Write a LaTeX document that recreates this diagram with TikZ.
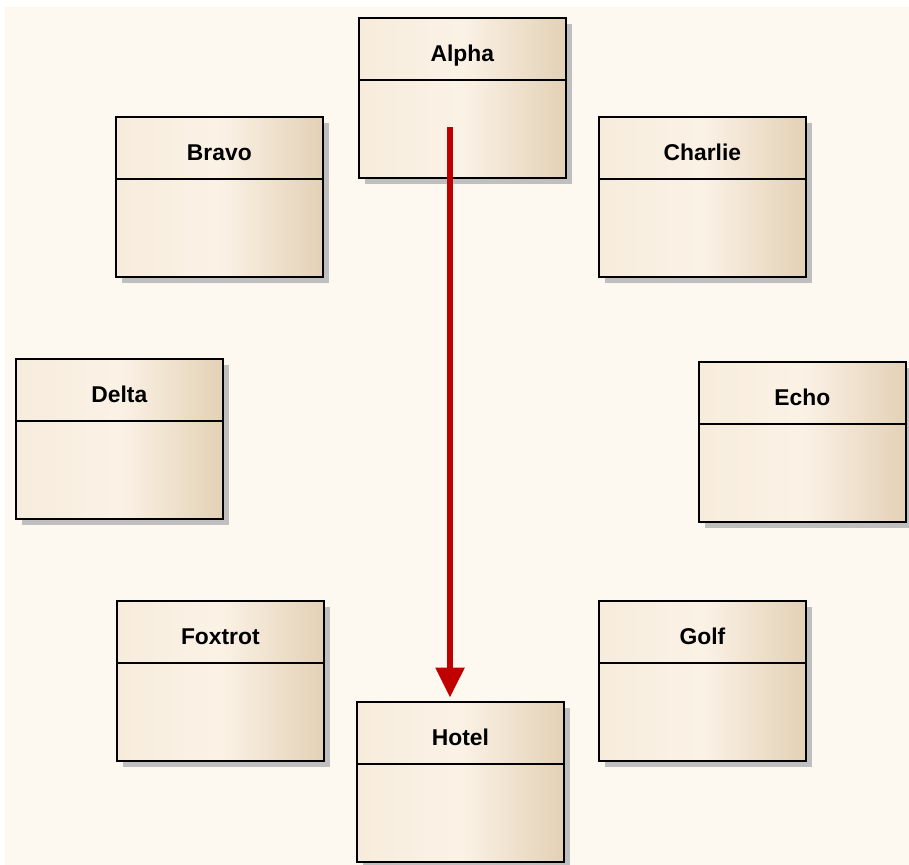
\documentclass[tikz,border=0pt]{standalone}
\usepackage{fontspec}
\setmainfont{Liberation Sans}
\usepackage{xcolor}
\usepackage{tikz}
\usetikzlibrary{arrows.meta, shadows, calc}

\definecolor{paper}{HTML}{FDF9F1}
\definecolor{boxL}{HTML}{F7ECDC}
\definecolor{boxM}{HTML}{FBF2E6}
\definecolor{boxR}{HTML}{E3D1B6}
\definecolor{linkred}{HTML}{C00000}

\begin{document}
\begin{tikzpicture}[
            x=0.02cm, y=-0.02cm,
            umlclass/.style={draw, line width=1pt, anchor=north west, inner sep=0pt,
                minimum width=4.14cm, minimum height=3.2cm,
                left color=boxL, right color=boxR, middle color=boxM,
                drop shadow={shadow xshift=0.13cm, shadow yshift=-0.13cm, fill=black!25, opacity=1}},
            title/.style={anchor=base, font=\fontsize{13}{15}\selectfont\bfseries},
            divider/.style={line width=1pt},
            link/.style={-{Triangle[length=17pt, width=16pt]}, line width=3pt, linkred, shorten >=2pt}
        ]
            \useasboundingbox (0,0) rectangle (909,865);
            \fill[paper] (5,7) rectangle (909,865);

            \node[umlclass] (alpha) at (358,17) {};
            \node[umlclass] (bravo) at (115,116) {};
            \node[umlclass] (charlie) at (598,116) {};
            \node[umlclass] (delta) at (15,358) {};
            \node[umlclass] (echo) at (698,361) {};
            \node[umlclass] (foxtrot) at (116,600) {};
            \node[umlclass] (golf) at (598,600) {};
            \node[umlclass] (hotel) at (356,701) {};

            % header line and name of each class
            \foreach \n/\t in {alpha/Alpha, bravo/Bravo, charlie/Charlie, delta/Delta, echo/Echo, foxtrot/Foxtrot, golf/Golf, hotel/Hotel} {
                \draw[divider] ($(\n.north west)+(0,63)$) -- ($(\n.north east)+(0,63)$);
                \node[title] (\n-title) at ($(\n.north)+(0,44.5)$) {\t};
            }

            \coordinate (tail) at (450,127);
            \draw[link] (tail) -- (tail |- hotel.north);
        \end{tikzpicture}
\end{document}
